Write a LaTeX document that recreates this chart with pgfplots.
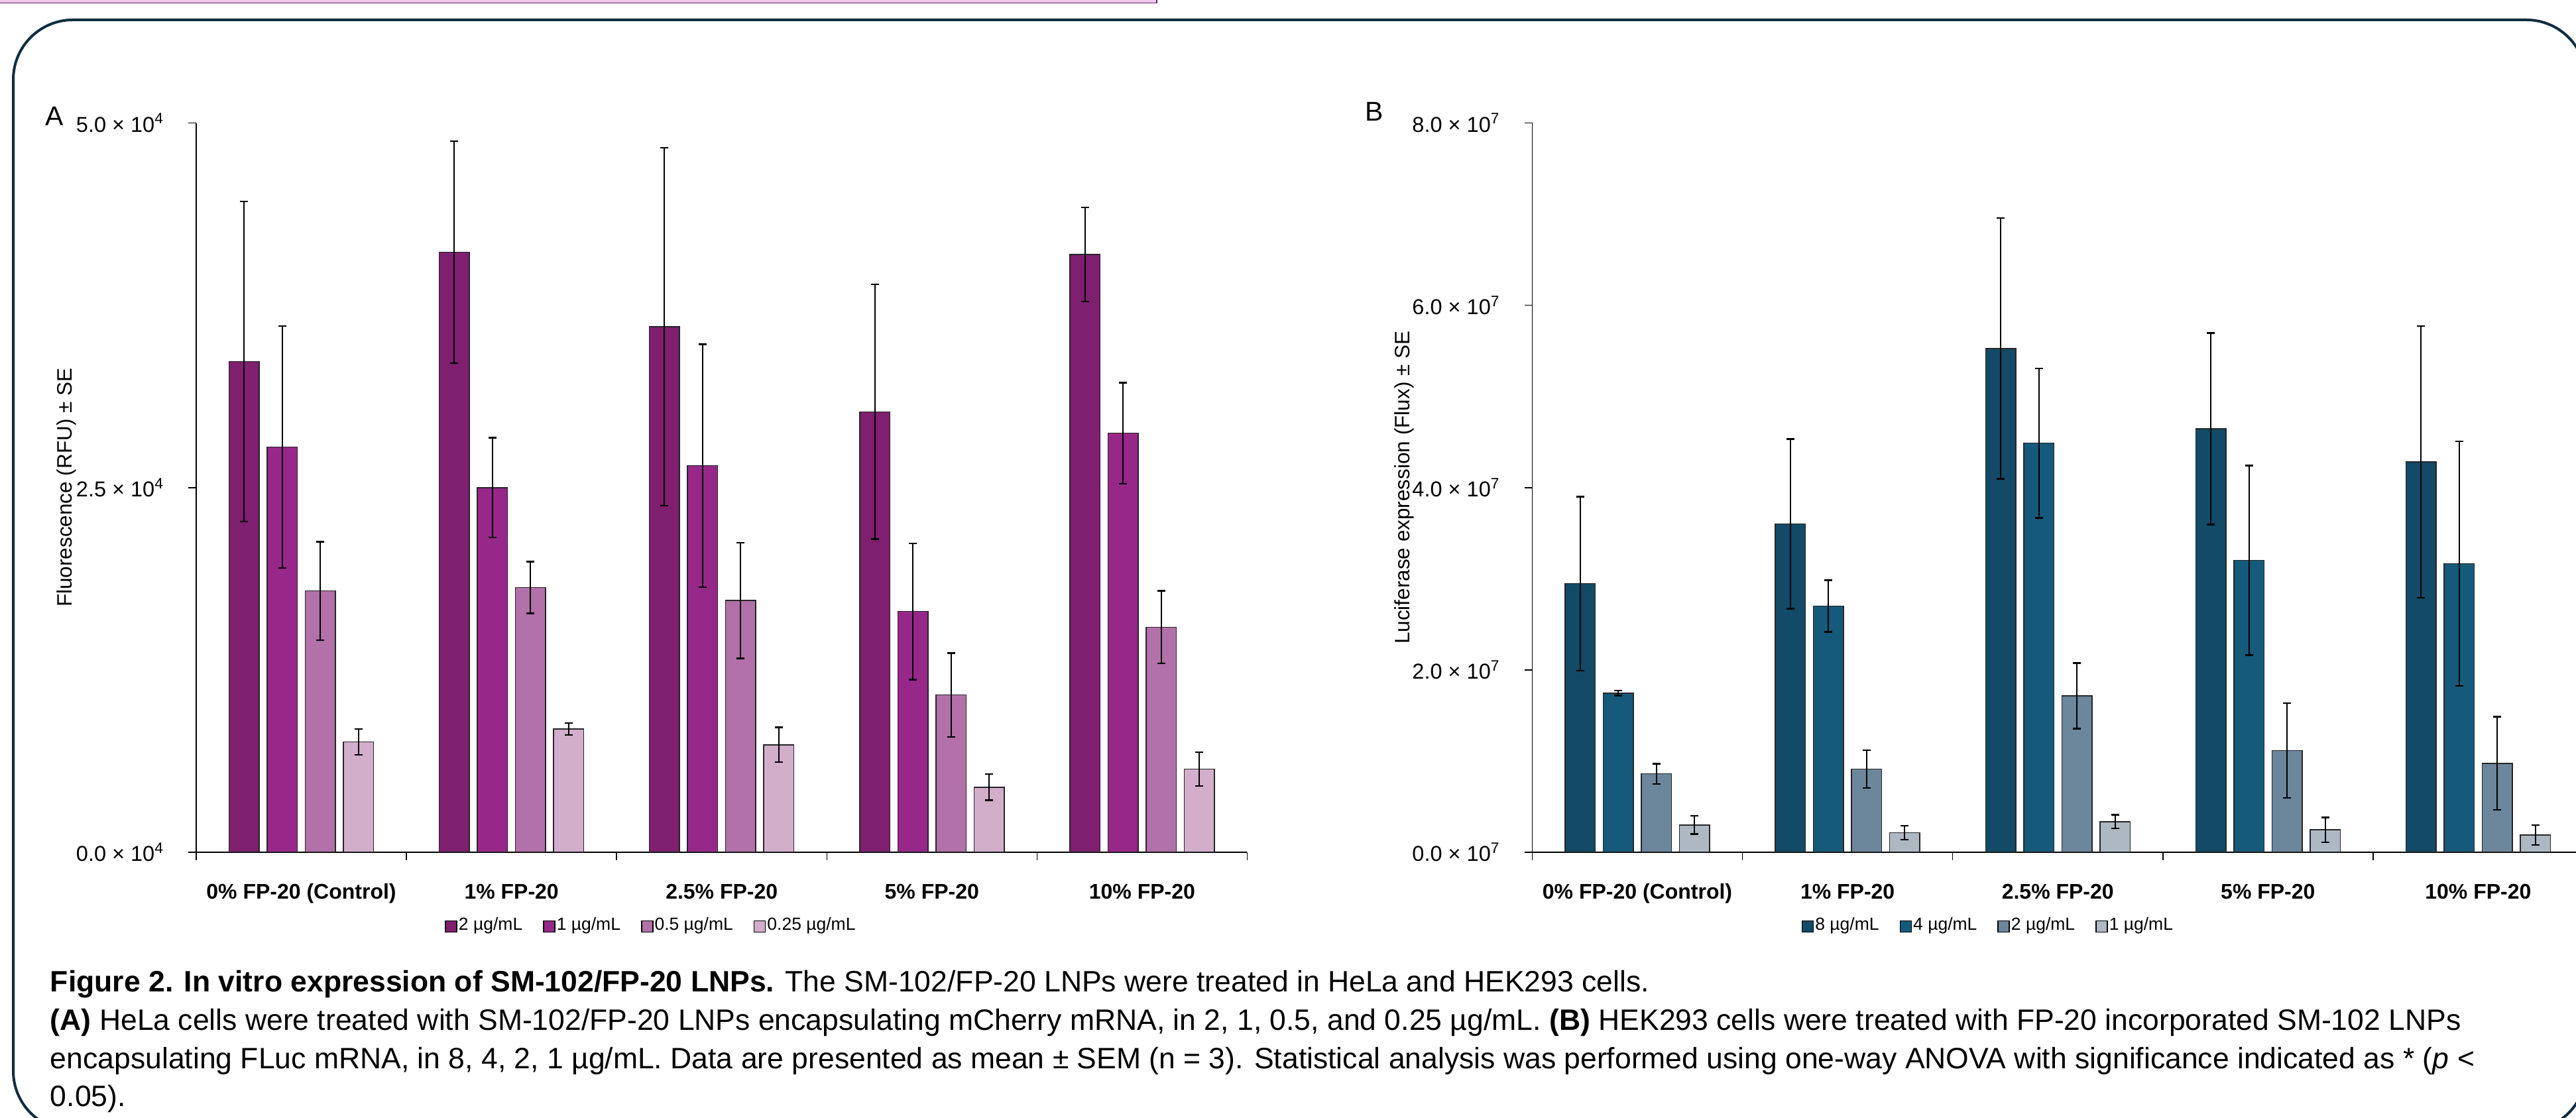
\documentclass[border=0pt]{standalone}
\usepackage{pgfplots}
\pgfplotsset{compat=1.18}
\usepackage{fontspec}
\setmainfont{Liberation Sans}

\definecolor{aone}{HTML}{7E1F6F}
\definecolor{atwo}{HTML}{97288A}
\definecolor{athree}{HTML}{B271A8}
\definecolor{afour}{HTML}{D2AECB}
\definecolor{bone}{HTML}{124A67}
\definecolor{btwo}{HTML}{155A7A}
\definecolor{bthree}{HTML}{6C869C}
\definecolor{bfour}{HTML}{AEB8C3}
\definecolor{framec}{HTML}{0F2D40}
\definecolor{pinkfill}{HTML}{EFC6EC}
\definecolor{pinkborder}{HTML}{5E2A6E}

\pgfplotsset{
 panel/.style={
  anchor=south west, width=317.1pt, height=220.1pt, scale only axis,
  ybar=2.4pt, bar width=9.1pt,
  xmin=-0.5, xmax=4.5, ymin=0,
  axis x line*=bottom, axis y line*=left,
  x axis line style={line width=0.45pt, black, -},
  y axis line style={line width=0.3pt, black, -},
  xtick={0,1,2,3,4},
  xticklabels={0\% FP-20 (Control),1\% FP-20,2.5\% FP-20,5\% FP-20,10\% FP-20},
  every major x tick/.style={draw=none},
  minor xtick={-0.5,0.5,1.5,2.5,3.5,4.5},
  every minor x tick/.style={black, line width=0.3pt},
  minor tick length=2.4pt,
  major tick length=2.3pt,
  tick align=outside,
  every major y tick/.style={black, line width=0.3pt},
  xticklabel style={font=\fontsize{6.4pt}{7pt}\selectfont\bfseries, anchor=base, inner sep=0pt, yshift=-11.8pt},
  yticklabel style={font=\fontsize{6.5pt}{7pt}\selectfont, anchor=east, inner sep=0pt, xshift=-7pt},
  scaled y ticks=false,
  ylabel style={font=\fontsize{6.3pt}{7pt}\selectfont, anchor=center},
  error bars/y dir=both, error bars/y explicit,
  error bars/error bar style={black, line width=0.4pt},
  error bars/error mark options={rotate=90, mark size=1.2pt, black, line width=0.5pt},
  legend columns=4,
  legend style={draw=none, fill=none, anchor=center, font=\fontsize{5.3pt}{6pt}\selectfont,
    /tikz/every even column/.append style={column sep=5.8pt}, nodes={inner sep=0.4pt}},
  legend image code/.code={\draw[#1, draw=black, line width=0.3pt] (0pt,-1.7pt) rectangle (3.4pt,1.7pt);},
  every axis plot/.append style={draw=black!85, line width=0.3pt},
 }
}

\begin{document}
\begin{tikzpicture}
\useasboundingbox (0,0) rectangle (777.2pt,337.4pt);
\clip (0,0) rectangle (777.2pt,337.4pt);

% remnant of box above
\fill[pinkfill] (0pt,337.6pt) rectangle (349pt,336.6pt);
\draw[pinkborder, line width=0.3pt] (0pt,336.5pt) -- (349pt,336.5pt) -- (349pt,337.8pt);

% frame
\draw[framec, line width=0.8pt, rounded corners=18pt] (4pt,331.4pt) rectangle (780.2pt,-3.8pt);

% panel letters
\node[font=\fontsize{8.2pt}{9pt}\selectfont, inner sep=0pt] at (16.4pt,302.4pt) {A};
\node[font=\fontsize{8.2pt}{9pt}\selectfont, inner sep=0pt] at (414.6pt,303.8pt) {B};

% Panel A
\begin{axis}[panel, at={(59.2pt,80.2pt)},
  ymax=50000, ytick={0,25000,50000},
  yticklabels={0.0 × 10\textsuperscript{4},2.5 × 10\textsuperscript{4},5.0 × 10\textsuperscript{4}},
  ylabel={Fluorescence (RFU) ± SE},
  ylabel style={at={(axis description cs:-0.1236,0.5)}},
  legend style={at={(0.4327,-0.1018)}},
]
\addplot[fill=aone] coordinates {(0,33640)+-(0,10970) (1,41140)+-(0,7615) (2,36030)+-(0,12270) (3,30200)+-(0,8730) (4,40980)+-(0,3230)};
\addplot[fill=atwo] coordinates {(0,27780)+-(0,8300) (1,24990)+-(0,3420) (2,26500)+-(0,8320) (3,16510)+-(0,4670) (4,28730)+-(0,3470)};
\addplot[fill=athree] coordinates {(0,17920)+-(0,3370) (1,18150)+-(0,1770) (2,17260)+-(0,3960) (3,10780)+-(0,2870) (4,15430)+-(0,2490)};
\addplot[fill=afour] coordinates {(0,7570)+-(0,885) (1,8450)+-(0,410) (2,7370)+-(0,1190) (3,4460)+-(0,900) (4,5700)+-(0,1160)};
\legend{2 µg/mL,1 µg/mL,0.5 µg/mL,0.25 µg/mL}
\end{axis}

% Panel B
\begin{axis}[panel, at={(462.3pt,80.2pt)},
  ymax=80000000, ytick={0,20000000,40000000,60000000,80000000},
  yticklabels={0.0 × 10\textsuperscript{7},2.0 × 10\textsuperscript{7},4.0 × 10\textsuperscript{7},6.0 × 10\textsuperscript{7},8.0 × 10\textsuperscript{7}},
  ylabel={Luciferase expression (Flux) ± SE},
  ylabel style={at={(axis description cs:-0.122,0.5)}},
  legend style={at={(0.4336,-0.1018)}},
]
\addplot[fill=bone] coordinates {(0,29460000)+-(0,9550000) (1,36020000)+-(0,9300000) (2,55260000)+-(0,14300000) (3,46450000)+-(0,10500000) (4,42830000)+-(0,14900000)};
\addplot[fill=btwo] coordinates {(0,17460000)+-(0,260000) (1,27000000)+-(0,2830000) (2,44880000)+-(0,8200000) (3,32030000)+-(0,10400000) (4,31660000)+-(0,13400000)};
\addplot[fill=bthree] coordinates {(0,8600000)+-(0,1100000) (1,9120000)+-(0,2070000) (2,17140000)+-(0,3600000) (3,11170000)+-(0,5200000) (4,9750000)+-(0,5100000)};
\addplot[fill=bfour] coordinates {(0,2990000)+-(0,1000000) (1,2150000)+-(0,760000) (2,3360000)+-(0,740000) (3,2460000)+-(0,1370000) (4,1890000)+-(0,1100000)};
\legend{8 µg/mL,4 µg/mL,2 µg/mL,1 µg/mL}
\end{axis}

% caption
\begin{scope}[every node/.style={anchor=base west, inner sep=0pt, font=\fontsize{8.9pt}{11.6pt}\selectfont}]
\node at (15pt,38pt) {\textbf{Figure 2. In vitro expression of SM-102/FP-20 LNPs.} The SM-102/FP-20 LNPs were treated in HeLa and HEK293 cells.};
\node at (15pt,26.4pt) {\textbf{(A)} HeLa cells were treated with SM-102/FP-20 LNPs encapsulating mCherry mRNA, in 2, 1, 0.5, and 0.25 µg/mL. \textbf{(B)} HEK293 cells were treated with FP-20 incorporated SM-102 LNPs};
\node at (15pt,14.8pt) {encapsulating FLuc mRNA, in 8, 4, 2, 1 µg/mL. Data are presented as mean ± SEM (n = 3). Statistical analysis was performed using one-way ANOVA with significance indicated as * (\textit{p} <};
\node at (15pt,3.4pt) {0.05).};
\end{scope}
\end{tikzpicture}
\end{document}
